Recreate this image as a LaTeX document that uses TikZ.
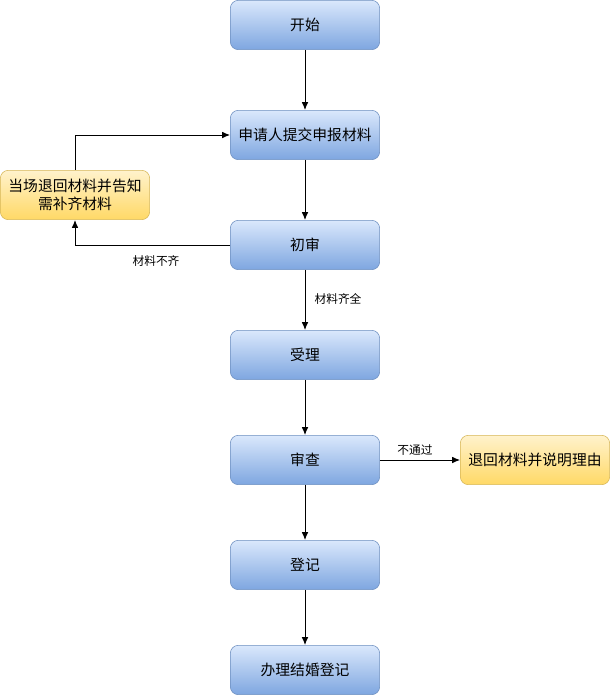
\documentclass[tikz,border=0pt]{standalone}
\usepackage{fontspec}
\setmainfont{Noto Sans CJK SC}
\usepackage{tikz}
\usetikzlibrary{arrows.meta,positioning}
\usepackage{xcolor}
\definecolor{blueTop}{HTML}{DAE8FC}
\definecolor{blueBot}{HTML}{7EA6E0}
\definecolor{blueLine}{HTML}{6C8EBF}
\definecolor{yelTop}{HTML}{FFF2CC}
\definecolor{yelBot}{HTML}{FFD966}
\definecolor{yelLine}{HTML}{D6B656}

\begin{document}
\begin{tikzpicture}[
  x=0.75pt, y=-0.75pt,
  >={Latex[length=6pt,width=5pt]},
  box/.style={draw=blueLine, rounded corners=6pt, top color=blueTop, bottom color=blueBot, align=center, minimum width=112pt, minimum height=37pt, inner sep=2pt, font=\fontsize{11.1}{13.5}\selectfont},
  note/.style={box, draw=yelLine, top color=yelTop, bottom color=yelBot},
  arr/.style={->, line width=.75pt, draw=black},
  lbl/.style={font=\fontsize{8.8}{10}\selectfont, inner sep=1pt}
]
\useasboundingbox (0,0) rectangle (611,696);

\node[box] (start) at (305,25) {开始};
\node[box] (apply) at (305,135) {申请人提交申报材料};
\node[box] (first) at (305,245) {初审};
\node[box] (accept) at (305,355) {受理};
\node[box] (review) at (305,460) {审查};
\node[box] (regist) at (305,565) {登记};
\node[box] (finish) at (305,670) {办理结婚登记};

\node[note] (back) at (75,195) {当场退回材料并告知\\需补齐材料};
\node[note] (reject) at (535,460) {退回材料并说明理由};

\draw[arr] (start) -- (apply);
\draw[arr] (apply) -- (first);
\draw[arr] (first) -- (accept);
\draw[arr] (accept) -- (review);
\draw[arr] (review) -- (regist);
\draw[arr] (regist) -- (finish);

% Incomplete materials loop back.
\draw[arr] (first.west) -| (back.south);
\draw[arr] (back.north) |- (apply.west);
\draw[arr] (review.east) -- (reject.west);

\node[lbl] (lnot) at (156,261) {材料不齐};
\node[lbl] (lfull) at (338,299) {材料齐全};
\node[lbl] (lfail) at (415,450) {不通过};
\end{tikzpicture}
\end{document}
